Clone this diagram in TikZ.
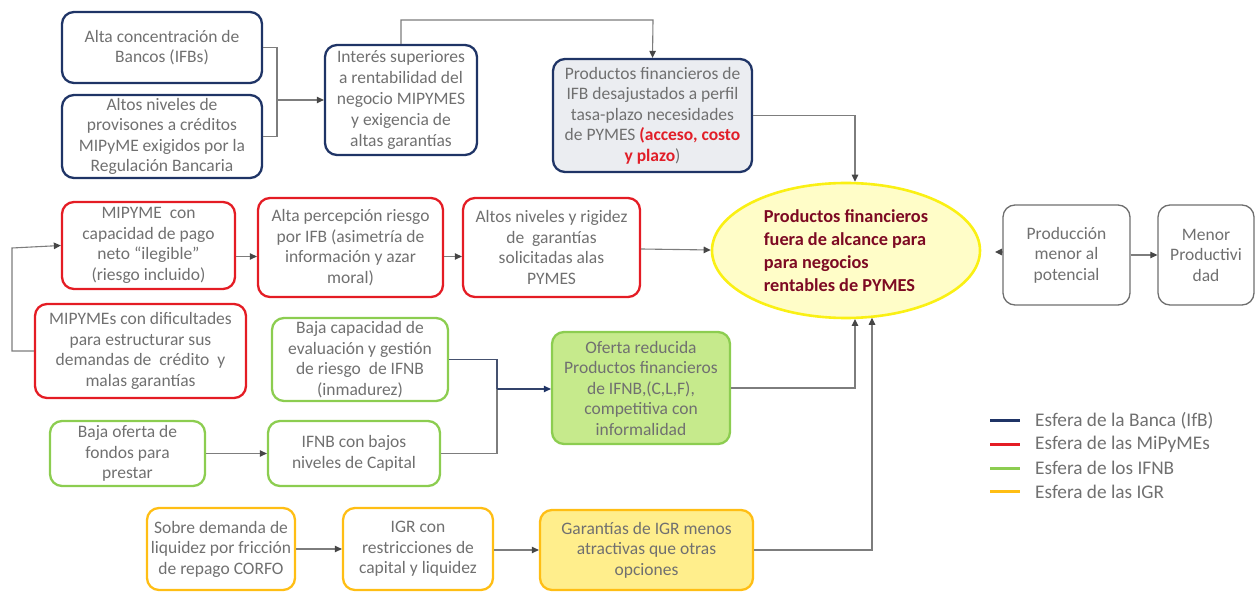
\documentclass[tikz,border=0pt]{standalone}
\usepackage{fontspec}
\setmainfont{Carlito}
\usetikzlibrary{arrows.meta,shapes.geometric,calc}
\definecolor{navy}{RGB}{31,52,102}
\definecolor{redb}{RGB}{228,28,36}
\definecolor{greenb}{RGB}{140,205,80}
\definecolor{orangeb}{RGB}{255,190,20}
\definecolor{grayb}{RGB}{110,110,110}
\definecolor{txt}{RGB}{112,112,112}
\definecolor{conncol}{RGB}{125,125,125}
\definecolor{tipcol}{RGB}{70,70,70}
\definecolor{ellfill}{RGB}{255,253,200}
\definecolor{ellline}{RGB}{250,240,20}
\definecolor{ifbfill}{RGB}{235,237,241}
\definecolor{ifnbfill}{RGB}{198,234,140}
\definecolor{igrfill}{RGB}{255,238,140}
\definecolor{darkred}{RGB}{125,10,35}
\definecolor{redtxt}{RGB}{225,30,40}
\begin{document}
\begin{tikzpicture}[x=1pt,y=-1pt,
  box/.style={draw, rounded corners=12pt, line width=2.3pt, align=center,
    text=txt, font=\fontsize{17.5}{20.5}\selectfont, inner sep=1pt},
  ifb/.style={box, draw=navy},
  mip/.style={box, draw=redb},
  ifnb/.style={box, draw=greenb},
  igr/.style={box, draw=orangeb},
  plain/.style={box, draw=grayb, line width=1.3pt},
  conn/.style={draw=conncol, line width=1.1pt},
  arr/.style={conn, -{Triangle[length=7pt,width=6.5pt,color=tipcol]}},
  legline/.style={line width=3pt},
  legtext/.style={anchor=west, text=txt, font=\fontsize{19.3}{21}\selectfont, inner sep=0pt}
]
\useasboundingbox (0,0) rectangle (1256,593);

% Banking sphere
\node[ifb, minimum width=200, minimum height=71] (b1) at (162,47.5)
  {Alta concentración de\\Bancos (IFBs)};
\node[ifb, minimum width=200, minimum height=83] (b2) at (162,136.5)
  {Altos niveles de\\provisones a créditos\\MIPyME exigidos por la\\Regulación Bancaria};
\node[ifb, minimum width=152, minimum height=110, font=\fontsize{17.5}{21}\selectfont] (b3) at (401,100)
  {Interés superiores\\a rentabilidad del\\negocio MIPYMES\\y exigencia de\\altas garantías};
\node[ifb, fill=ifbfill, minimum width=199, minimum height=113] (b4) at (652.5,115.5)
  {Productos financieros de\\IFB desajustados a perfil\\tasa-plazo necesidades\\de PYMES {\color{redtxt}\bfseries(acceso, costo}\\{\color{redtxt}\bfseries y plazo})};

% MiPyME sphere
\node[mip, minimum width=173, minimum height=87] (b5) at (148.5,245.5)
  {MIPYME~~con\\capacidad de pago\\neto “ilegible”\\(riesgo incluido)};
\node[mip, minimum width=185, minimum height=99] (b6) at (350.5,247.5)
  {Alta percepción riesgo\\por IFB (asimetría de\\información y azar\\moral)};
\node[mip, minimum width=177, minimum height=99] (b7) at (551.5,247.5)
  {Altos niveles y rigidez\\de~~garantías\\solicitadas alas\\PYMES};
\node[mip, minimum width=211, minimum height=94] (b11) at (140.5,351)
  {MIPYMEs con dificultades\\para estructurar sus\\demandas de~~crédito~~y\\malas garantías};

% Central problem
\node[ellipse, draw=ellline, fill=ellfill, line width=2.6pt, minimum width=268,
  minimum height=135, inner sep=0pt, align=left, text=darkred,
  font=\bfseries\fontsize{18.3}{23}\selectfont] (ell) at (846,250.5)
  {Productos financieros\\fuera de alcance para\\para negocios\\rentables de PYMES};

% Consequences
\node[plain, minimum width=127, minimum height=100] (b9) at (1066.5,255)
  {Producción\\menor al\\potencial};
\node[plain, minimum width=96, minimum height=100] (b10) at (1206,255)
  {Menor\\Productivi\\dad};

% IFNB sphere
\node[ifnb, minimum width=176, minimum height=83] (b12) at (360,359.5)
  {Baja capacidad de\\evaluación y gestión\\de riesgo~~de IFNB\\(inmadurez)};
\node[ifnb, fill=ifnbfill, minimum width=178, minimum height=112] (b13) at (641,388)
  {Oferta reducida\\Productos financieros\\de IFNB,(C,L,F),\\competitiva con\\informalidad};
\node[ifnb, minimum width=155, minimum height=65] (b14) at (127.5,453.5)
  {Baja oferta de\\fondos para\\prestar};
\node[ifnb, minimum width=172, minimum height=65] (b15) at (354,453.5)
  {IFNB con bajos\\niveles de Capital};

% IGR sphere
\node[igr, minimum width=148, minimum height=82] (b16) at (221,549)
  {Sobre demanda de\\liquidez por fricción\\de repago CORFO};
\node[igr, minimum width=150, minimum height=82] (b17) at (418,549)
  {IGR con\\restricciones de\\capital y liquidez};
\node[igr, fill=igrfill, minimum width=213, minimum height=80] (b18) at (646.5,550)
  {Garantías de IGR menos\\atractivas que otras\\opciones};

% Junction points
\coordinate (j1) at (277,100);
\coordinate (t3) at (653,20);
\coordinate (jl) at (12,248);
\coordinate (j2) at (497,389);
\coordinate (pe) at (995,252);

% Connectors
\draw[conn] (b1.east) -| (j1) |- (b2.east);
\draw[arr] (j1) -- (b3.west);
\draw[arr] (b3.north) |- (t3) -- (b4.north);
\draw[arr] (b4.east) -| ($(ell.north)+(9,0)$);
\draw[arr] (b11.west) -| (jl) -- (b5.west);
\draw[arr] ($(b5.east)+(0,11)$) -- ($(b6.west)+(0,9)$);
\draw[arr] ($(b6.east)+(0,9)$) -- ($(b7.west)+(0,9)$);
\draw[arr] ($(b7.east)+(0,1.5)$) -- ($(ell.west)+(0,-0.5)$);
\draw[arr] (b9.west |- pe) -- (pe);
\draw[arr] (b9.east) -- (b10.west);
\draw[conn, draw=navy!60!conncol] (b12.east) -| (j2);
\draw[conn] (b15.east) -| (j2);
\draw[arr, draw=navy!80!conncol, -{Triangle[length=7pt,width=6.5pt,color=navy]}] (j2) -- (b13.west |- j2);
\draw[arr] (b13.east) -| ($(ell.south)+(9,-0.3)$);
\draw[arr] (b18.east) -| ($(ell.south)+(26,-1.5)$);
\draw[arr] (b14.east) -- (b15.west);
\draw[arr] (b16.east) -- (b17.west);
\draw[arr] (b17.east |- b18.east) -- (b18.west);

% Legend
\coordinate (l1) at (990,421);
\coordinate (l2) at (990,444.5);
\coordinate (l3) at (990,468);
\coordinate (l4) at (990,491.5);
\draw[legline, navy] (l1) -- ++(30,0);
\draw[legline, redb] (l2) -- ++(30,0);
\draw[legline, greenb] (l3) -- ++(30,0);
\draw[legline, orangeb] (l4) -- ++(30,0);
\node[legtext] (lt1) at (1035,421) {Esfera de la Banca (IfB)};
\node[legtext] (lt2) at (1035,444.5) {Esfera de las MiPyMEs};
\node[legtext] (lt3) at (1035,468) {Esfera de los IFNB};
\node[legtext] (lt4) at (1035,491.5) {Esfera de las IGR};
\end{tikzpicture}
\end{document}
